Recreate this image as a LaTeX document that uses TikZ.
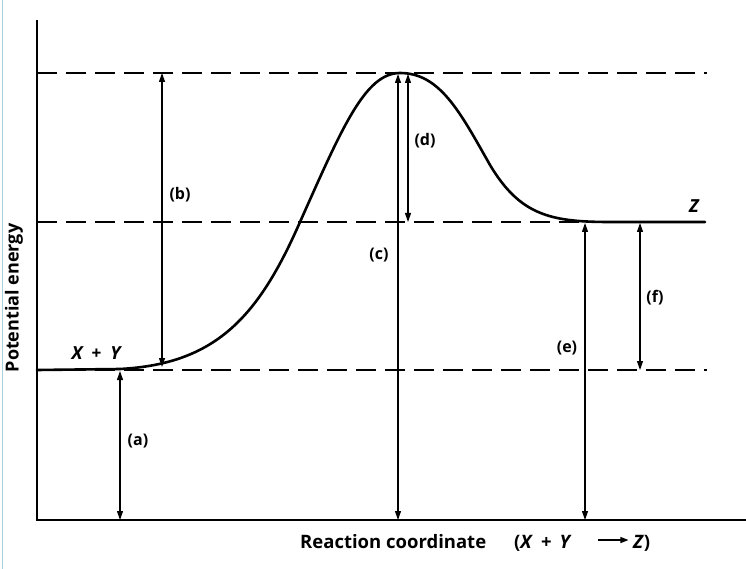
\documentclass[tikz,border=0pt]{standalone}
\usepackage{fontspec}
\setmainfont{Open Sans}
\usetikzlibrary{arrows.meta}
\begin{document}
\begin{tikzpicture}[x=1pt,y=-1pt,
  axisline/.style={line width=1.4pt},
  levelline/.style={line width=1.6pt,dash pattern=on 20pt off 9pt},
  curveline/.style={line width=2.6pt,line cap=round},
  dimarrow/.style={line width=1.1pt,{Triangle[length=9pt,width=6pt]}-{Triangle[length=9pt,width=6pt]}},
  lab/.style={font=\fontsize{16}{18}\selectfont\bfseries, inner sep=0pt},
  species/.style={font=\fontsize{18}{20}\selectfont\itshape\bfseries, inner sep=0pt}]
\useasboundingbox (0,0) rectangle (746,569);
\fill[white] (0,0) rectangle (746,569);
\draw[color={rgb,255:red,170;green,208;blue,224},line width=1pt] (2,0) -- (2,569);
% axes
\coordinate (origin) at (37,520);
\coordinate (ytop) at (37,20);
\coordinate (xend) at (746,520);
\draw[axisline] (ytop) -- (origin) -- (xend);
% level lines
\coordinate (t0) at (37,73);   \coordinate (t1) at (707,73);
\coordinate (m0) at (37,222);  \coordinate (m1) at (585,222);
\coordinate (b0) at (37,370);  \coordinate (b1) at (707,370);
\draw[levelline] (t0) -- (t1);
\draw[levelline] (m0) -- (m1);
\draw[levelline] (b0) -- (b1);
% curve
\draw[curveline] (37,370) -- (120,369)
  .. controls (215,364) and (258,318) .. (300,222)
  .. controls (342,128) and (365,73) .. (400,73)
  .. controls (440,73) and (460,112) .. (490,165)
  .. controls (520,215) and (550,222) .. (610,222)
  -- (705,222);
% arrows
\coordinate (a0) at (120,371); \coordinate (a1) at (120,520);
\coordinate (bb0) at (162,73); \coordinate (bb1) at (162,367);
\coordinate (c0) at (398,74);  \coordinate (c1) at (398,520);
\coordinate (d0) at (408,74);  \coordinate (d1) at (408,222);
\coordinate (e0) at (585,223); \coordinate (e1) at (585,520);
\coordinate (f0) at (640,223); \coordinate (f1) at (640,370);
\draw[dimarrow] (a0) -- (a1);
\draw[dimarrow] (bb0) -- (bb1);
\draw[dimarrow] (c0) -- (c1);
\draw[dimarrow] (d0) -- (d1);
\draw[dimarrow] (e0) -- (e1);
\draw[dimarrow] (f0) -- (f1);
% labels
\node[lab] (la) at (138,441) {(a)};
\node[lab] (lb) at (180,195) {(b)};
\node[lab] (lc) at (379,255) {(c)};
\node[lab] (ld) at (425,141) {(d)};
\node[lab] (le) at (567,348) {(e)};
\node[lab] (lf) at (655,298) {(f)};
\node[species] (xy) at (96,353) {X\hspace{9pt}+\hspace{9pt}Y};
\node[species] (z) at (694,206) {Z};
\node[lab, rotate=90, font=\fontsize{18}{20}\selectfont\bfseries] (ylab) at (14,298) {Potential energy};
\node[lab, font=\fontsize{18.5}{20}\selectfont\bfseries, anchor=west] (xlab) at (300,543) {Reaction coordinate\hspace{28pt}(\textit{X}\hspace{8pt}+\hspace{8pt}\textit{Y}\hspace{26pt}\raisebox{0.3em}{\tikz\draw[line width=1.2pt,-{Triangle[length=8pt,width=6pt]}] (0,0) -- (30pt,0);}\hspace{4pt}\textit{Z})};
\end{tikzpicture}
\end{document}
